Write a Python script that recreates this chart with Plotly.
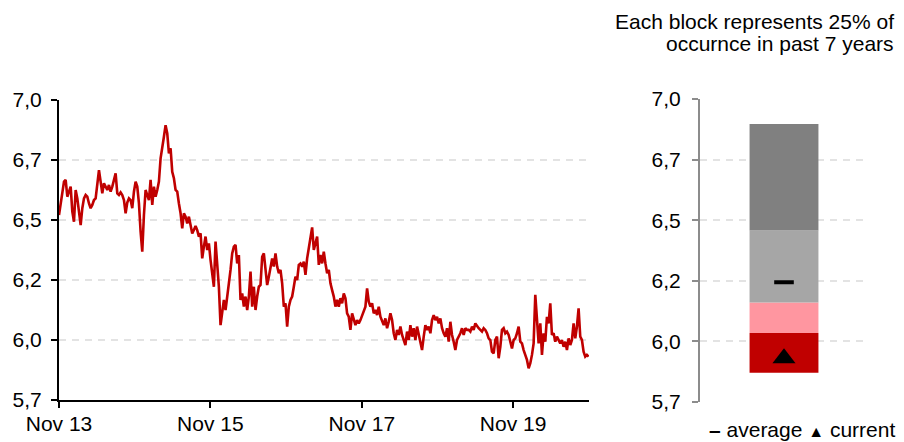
import pandas as pd
import plotly.graph_objects as go

# ---- data -----------------------------------------------------------------
# Exchange-rate observations, evenly spaced from Nov 2013 to end Oct 2020
rate_values = [
    6.521, 6.563, 6.604, 6.660, 6.667, 6.597, 6.618, 6.639, 6.535, 6.493,
    6.625, 6.590, 6.535, 6.479, 6.549, 6.590, 6.604, 6.597, 6.569, 6.549,
    6.563, 6.583, 6.590, 6.639, 6.708, 6.660, 6.611, 6.653, 6.639, 6.625,
    6.646, 6.618, 6.639, 6.667, 6.694, 6.611, 6.604, 6.615, 6.604, 6.583,
    6.528, 6.573, 6.590, 6.583, 6.549, 6.618, 6.660, 6.639, 6.569, 6.451,
    6.368, 6.521, 6.625, 6.604, 6.583, 6.667, 6.563, 6.639, 6.597, 6.625,
    6.660, 6.757, 6.813, 6.847, 6.895, 6.861, 6.778, 6.799, 6.701, 6.674,
    6.625, 6.618, 6.569, 6.528, 6.465, 6.528, 6.514, 6.486, 6.514, 6.479,
    6.444,
    6.458, 6.475, 6.458, 6.431, 6.444, 6.340, 6.389, 6.431, 6.375, 6.403,
    6.333, 6.278, 6.222, 6.410, 6.306, 6.222, 6.062, 6.111, 6.167, 6.125,
    6.194, 6.236, 6.292, 6.361, 6.389, 6.396, 6.319, 6.354, 6.167, 6.194,
    6.139, 6.181, 6.125, 6.181, 6.285, 6.139, 6.222, 6.125, 6.181, 6.222,
    6.229, 6.347, 6.361, 6.292, 6.229, 6.264, 6.313, 6.340, 6.306, 6.361,
    6.306, 6.278, 6.292, 6.236, 6.139, 6.153, 6.056, 6.139, 6.167, 6.181,
    6.222, 6.264, 6.250, 6.313, 6.319, 6.306, 6.326, 6.271, 6.340, 6.389,
    6.417, 6.469, 6.375, 6.403, 6.431, 6.313, 6.354, 6.319, 6.368, 6.319,
    6.278, 6.292,
    6.236, 6.208, 6.181, 6.139, 6.167, 6.139, 6.174, 6.153, 6.194, 6.174,
    6.111, 6.097, 6.042, 6.111, 6.090, 6.062, 6.083, 6.069, 6.083, 6.104,
    6.125, 6.139, 6.215, 6.160, 6.139, 6.153, 6.111, 6.125, 6.104, 6.139,
    6.097, 6.083, 6.062, 6.090, 6.049, 6.076, 6.111, 6.083, 6.028, 6.000,
    6.042, 6.021, 6.056, 6.021, 6.000, 5.979, 6.035, 6.000, 6.062, 6.014,
    6.049, 6.000, 6.056, 6.021, 5.993, 5.958, 6.014, 6.062, 6.042, 6.056,
    6.028, 6.083, 6.104, 6.083, 6.097, 6.069, 6.090, 6.049, 6.028, 6.014,
    6.049, 5.993, 6.076, 6.021, 5.993, 5.958, 6.000, 6.014, 6.028, 6.049,
    6.021, 6.049, 6.042, 6.042, 6.035, 6.056, 6.042, 6.069, 6.056, 6.049,
    6.042, 6.035, 6.049, 6.042, 6.028, 6.007, 6.000, 5.951, 5.944, 6.000,
    6.014, 5.924, 5.972, 6.042, 6.049, 6.028, 6.035, 6.021, 5.993, 5.965,
    6.000, 6.007, 6.028, 6.056, 5.993, 5.986, 5.958, 5.938, 5.917, 5.882,
    5.903, 5.938, 5.986, 6.188, 6.097, 5.986, 6.069, 5.938, 6.028, 5.993,
    6.097, 6.069, 6.153, 6.021, 6.028, 5.993, 6.014, 6.000, 5.986, 6.000,
    5.972, 5.993, 5.958, 6.007, 5.979, 6.000, 6.069, 6.007, 6.056, 6.132,
    6.014, 6.000, 5.951, 5.931, 5.938, 5.931,
]
series_start = "2013-11-01"
series_end = "2020-10-30"
dates = pd.date_range(series_start, series_end, periods=len(rate_values))

# Distribution of the rate over the period: min, Q1, median, Q3, max
quartile_bounds = [5.871, 6.035, 6.160, 6.457, 6.897]
block_colors = ["#C00000", "#FF96A0", "#A6A6A6", "#808080"]
average_value = 6.244
current_value = rate_values[-1]

y_tickvals = [5.75, 6.0, 6.25, 6.5, 6.75, 7.0]
y_ticktext = ["5,7", "6,0", "6,2", "6,5", "6,7", "7,0"]
x_tickvals = ["2013-11-01", "2015-11-01", "2017-11-01", "2019-11-01"]
x_ticktext = ["Nov 13", "Nov 15", "Nov 17", "Nov 19"]

title_lines = ["Each block represents 25% of", "occurnce in past 7 years"]

# ---- figure ---------------------------------------------------------------
W, H = 904, 442
FONT = "Liberation Sans, Arial, sans-serif"
GRID = dict(showgrid=True, gridcolor="#E3E3E3", gridwidth=1.5, griddash="7px,6px")

fig = go.Figure()

fig.add_trace(go.Scatter(
    x=dates, y=rate_values, mode="lines",
    line=dict(color="#C00000", width=2.6),
    xaxis="x", yaxis="y", showlegend=False, hoverinfo="skip",
))

for lo, hi, col in zip(quartile_bounds[:-1], quartile_bounds[1:], block_colors):
    fig.add_trace(go.Bar(
        x=[0], y=[hi - lo], base=[lo], width=0.41,
        marker=dict(color=col, line=dict(width=0)),
        xaxis="x2", yaxis="y2", showlegend=False, hoverinfo="skip",
    ))

fig.add_trace(go.Scatter(
    x=[0], y=[average_value], mode="markers",
    marker=dict(symbol="line-ew", size=14, line=dict(width=4, color="black")),
    xaxis="x2", yaxis="y2", showlegend=False, hoverinfo="skip",
))
fig.add_trace(go.Scatter(
    x=[0], y=[current_value], mode="markers",
    marker=dict(symbol="triangle-up", size=20, color="black",
                line=dict(width=0)),
    xaxis="x2", yaxis="y2", showlegend=False, hoverinfo="skip",
))

fig.update_layout(
    width=W, height=H,
    margin=dict(l=0, r=0, t=0, b=0, autoexpand=False),
    paper_bgcolor="white", plot_bgcolor="white",
    font=dict(family=FONT, size=21, color="black"),
    barmode="overlay",
    xaxis=dict(
        domain=[59 / W, 589 / W], type="date",
        range=["2013-11-01", "2020-11-01"],
        tickvals=x_tickvals, ticktext=x_ticktext,
        showline=True, linecolor="black", linewidth=2,
        ticks="outside", ticklen=6, tickwidth=2, tickcolor="black",
        showgrid=False, zeroline=False, ticklabelstandoff=-2,
        automargin=False,
    ),
    yaxis=dict(
        domain=[42 / H, 342 / H], range=[5.75, 7.0],
        tickvals=y_tickvals, ticktext=y_ticktext,
        showline=True, linecolor="black", linewidth=2,
        ticks="outside", ticklen=6, tickwidth=2, tickcolor="black",
        zeroline=False, ticklabelstandoff=5, automargin=False, **GRID,
    ),
    xaxis2=dict(
        domain=[700 / W, 868 / W], range=[-0.5, 0.5],
        showticklabels=False, showline=False, showgrid=False,
        zeroline=False, ticks="", anchor="y2", automargin=False,
    ),
    yaxis2=dict(
        domain=[40 / H, 343 / H], range=[5.75, 7.0],
        tickvals=y_tickvals, ticktext=y_ticktext,
        showline=True, linecolor="#8C8C8C", linewidth=2,
        ticks="outside", ticklen=6, tickwidth=2, tickcolor="#8C8C8C",
        zeroline=False, ticklabelstandoff=7, anchor="x2",
        automargin=False, **GRID,
    ),
    annotations=[
        dict(text=title_lines[0], xref="paper", yref="paper",
             x=896 / W, y=(H - 21) / H, xanchor="right", yanchor="middle",
             showarrow=False, font=dict(size=21)),
        dict(text=title_lines[1], xref="paper", yref="paper",
             x=896 / W, y=(H - 44) / H, xanchor="right", yanchor="middle",
             showarrow=False, font=dict(size=21)),
        dict(text="<b>–</b> average <span style='font-size:16px'>▲</span> current",
             xref="paper", yref="paper",
             x=897 / W, y=(H - 429) / H, xanchor="right", yanchor="middle",
             showarrow=False, font=dict(size=21)),
    ],
)

fig.write_html("out.html")
